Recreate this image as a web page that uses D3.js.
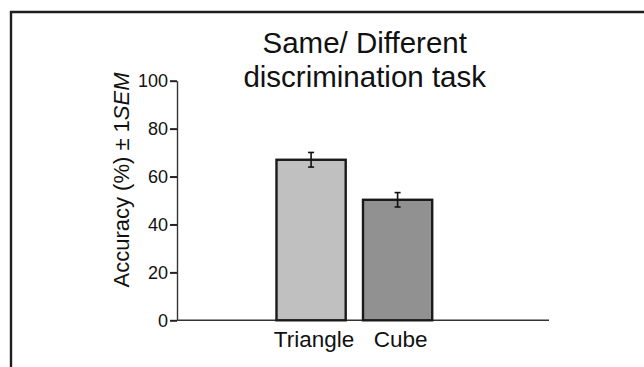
<!DOCTYPE html>
<meta charset="utf-8">
<style>
body { margin: 0; background: #fff; }
text { font-family: "Liberation Sans", Arial, sans-serif; fill: #111; }
</style>
<body>
<div id="chart"></div>
<script src="https://d3js.org/d3.v7.min.js"></script>
<script>

var width = 644,
    height = 367;

// data
var categories = ["Triangle", "Cube"];
var accuracy = [67, 50.3];
var sem = [3.05, 3.0];
var fills = ["#c0c0c0", "#919191"];
var yTicks = [0, 20, 40, 60, 80, 100];
var titleLines = ["Same/ Different", "discrimination task"];

var svg = d3.select("#chart").append("svg")
    .attr("width", width)
    .attr("height", height);

// panel frame (top + left edges only)
svg.append("path")
    .attr("d", "M11,367V12H644")
    .attr("fill", "none")
    .attr("stroke", "#1e1e1e")
    .attr("stroke-width", 2.4);

var x = d3.scaleBand()
    .domain(categories)
    .range([177, 549])
    .paddingInner(0.2)
    .paddingOuter(1.25)
    .align(0.46);

var y = d3.scaleLinear()
    .domain([0, 100])
    .range([320.3, 80.7]);

// y axis
var yAxis = svg.append("g")
    .attr("transform", "translate(177,0)")
    .call(d3.axisLeft(y).tickValues(yTicks).tickSize(7).tickPadding(2).tickSizeOuter(0));
yAxis.select(".domain").attr("stroke", "#333").attr("stroke-width", 1.4);
yAxis.selectAll(".tick line").attr("stroke", "#222").attr("stroke-width", 2);
yAxis.selectAll(".tick text")
    .style("font-family", "'Liberation Sans', Arial, sans-serif")
    .style("font-size", "18px")
    .attr("fill", "#111");

// x axis baseline
svg.append("line")
    .attr("x1", 177).attr("x2", 549)
    .attr("y1", y(0)).attr("y2", y(0))
    .attr("stroke", "#333")
    .attr("stroke-width", 1.4);

// bars
svg.selectAll("rect.bar")
    .data(categories)
    .enter().append("rect")
    .attr("class", "bar")
    .attr("x", d => x(d))
    .attr("width", x.bandwidth())
    .attr("y", (d, i) => y(accuracy[i]))
    .attr("height", (d, i) => y(0) - y(accuracy[i]))
    .attr("fill", (d, i) => fills[i])
    .attr("stroke", "#1a1a1a")
    .attr("stroke-width", 2.4);

// error bars
var err = svg.selectAll("g.err")
    .data(categories)
    .enter().append("g")
    .attr("class", "err")
    .attr("stroke", "#111")
    .attr("stroke-width", 1.6);
err.append("line")
    .attr("x1", d => x(d) + x.bandwidth() / 2)
    .attr("x2", d => x(d) + x.bandwidth() / 2)
    .attr("y1", (d, i) => y(accuracy[i] + sem[i]))
    .attr("y2", (d, i) => y(accuracy[i] - sem[i]));
[1, -1].forEach(function(s) {
  err.append("line")
      .attr("x1", d => x(d) + x.bandwidth() / 2 - 3)
      .attr("x2", d => x(d) + x.bandwidth() / 2 + 3)
      .attr("y1", (d, i) => y(accuracy[i] + s * sem[i]))
      .attr("y2", (d, i) => y(accuracy[i] + s * sem[i]));
});

// category labels
svg.selectAll("text.cat")
    .data(categories)
    .enter().append("text")
    .attr("class", "cat")
    .attr("x", d => x(d) + x.bandwidth() / 2 + 3)
    .attr("y", 347)
    .attr("text-anchor", "middle")
    .style("font-size", "22.5px")
    .text(d => d);

// y label
var yl = svg.append("text")
    .attr("transform", "translate(128.5,180) rotate(-90)")
    .attr("text-anchor", "middle")
    .style("font-size", "22px");
yl.append("tspan").text("Accuracy (%) \u00b1 1");
yl.append("tspan").style("font-style", "italic").text("SEM");

// title
svg.selectAll("text.title")
    .data(titleLines)
    .enter().append("text")
    .attr("class", "title")
    .attr("x", 364.7)
    .attr("y", (d, i) => 53.3 + i * 34)
    .attr("text-anchor", "middle")
    .style("font-size", "29.5px")
    .text(d => d);

</script>
</body>
